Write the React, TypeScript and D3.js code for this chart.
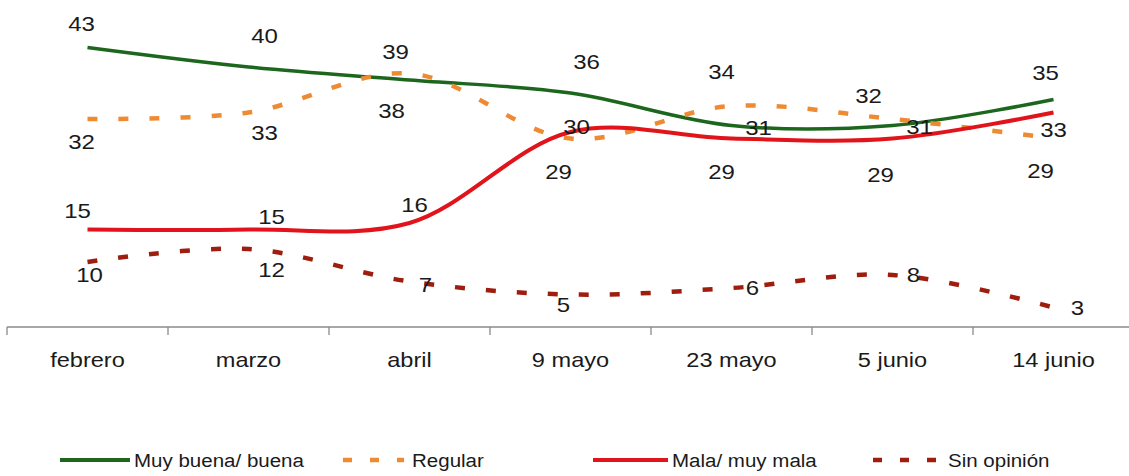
import React from 'react';
import * as d3 from 'd3';

const categories = ['febrero', 'marzo', 'abril', '9 mayo', '23 mayo', '5 junio', '14 junio'];

const muyBuena = [43, 40, 38, 36, 31, 31, 35];
const regular = [32, 33, 39, 29, 34, 32, 29];
const mala = [15, 15, 16, 30, 29, 29, 33];
const sinOpinion = [10, 12, 7, 5, 6, 8, 3];

// label offsets from each point (label centre - point), per series
const muyBuenaLabelPos = [[-6, -24], [16, -31], [-18, 31], [16, -31], [27, 2], [27, 1], [-8, -27]];
const regularLabelPos = [[-6, 23], [16, 20], [-14, -22], [-12, 33], [-10, -34], [-24, -23], [-13, 32]];
const malaLabelPos = [[-10, -19], [23, -13], [5, -18], [6, -5], [-10, 33], [-12, 36], [0, 17]];
const sinOpinionLabelPos = [[2, 13], [23, 21], [16, 3], [-7, 10], [21, 0], [21, 0], [24, 0]];

const width = 1129,
  height = 476;

const series = [
  { name: 'Muy buena/ buena', values: muyBuena, labels: muyBuenaLabelPos, color: '#1d661d', dash: null, sw: 3.5 },
  { name: 'Regular', values: regular, labels: regularLabelPos, color: '#ee8b32', dash: '10,21', sw: 4.5 },
  { name: 'Mala/ muy mala', values: mala, labels: malaLabelPos, color: '#e0141a', dash: null, sw: 4 },
  { name: 'Sin opinión', values: sinOpinion, labels: sinOpinionLabelPos, color: '#9e1d0e', dash: '10,21', sw: 4.5 },
];

const legendPos = [
  { x1: 60, x2: 130, tx: 134 },
  { x1: 343, x2: 404, tx: 412 },
  { x1: 593, x2: 668, tx: 672 },
  { x1: 873, x2: 940, tx: 948 },
];

const font = '"Liberation Sans", Arial, Helvetica, sans-serif';

const x = d3.scaleBand().domain(categories).range([7, 7 + 161 * 7]).padding(0);
const y = d3.scaleLinear().domain([0, 50]).range([327, 2]);
const cx = (c) => x(c) + x.bandwidth() / 2;

const line = d3.line()
  .x((d, i) => cx(categories[i]))
  .y(d => y(d))
  .curve(d3.curveCatmullRom);

const Label = ({ x, y, text, size, sx, anchor = 'middle', dy = '0.35em' }) => (
  <text
    transform={`translate(${x},${y}) scale(${sx},1)`}
    textAnchor={anchor}
    dy={dy}
    fontSize={size}
    fontFamily={font}
    fill="#1a1a1a"
  >
    {text}
  </text>
);

export default function App() {
  const tickXs = categories.map(c => x(c)).concat([x(categories[categories.length - 1]) + x.bandwidth()]);

  return (
    <svg width={width} height={height} style={{ position: 'absolute', left: 0, top: 0, background: '#fff' }}>
      {/* axis */}
      <g stroke="#8a8a8a" strokeWidth={1.3}>
        <line x1={7} x2={width} y1={y(0)} y2={y(0)} />
        {tickXs.map((t, i) => (
          <line key={i} x1={t} x2={t} y1={y(0)} y2={y(0) + 8} />
        ))}
      </g>
      {categories.map(c => (
        <Label key={c} x={cx(c)} y={367} text={c} size={20.5} sx={1.15} dy="0" />
      ))}

      {/* lines */}
      {series.map(s => (
        <path
          key={s.name}
          d={line(s.values)}
          fill="none"
          stroke={s.color}
          strokeWidth={s.sw}
          strokeDasharray={s.dash || undefined}
        />
      ))}

      {/* data labels */}
      {series.map(s => s.values.map((v, i) => (
        <Label
          key={s.name + i}
          x={cx(categories[i]) + s.labels[i][0]}
          y={y(v) + s.labels[i][1]}
          text={v}
          size={20}
          sx={1.2}
        />
      )))}

      {/* legend */}
      {series.map((s, i) => (
        <g key={s.name}>
          <line
            x1={legendPos[i].x1}
            x2={legendPos[i].x2}
            y1={460}
            y2={460}
            stroke={s.color}
            strokeWidth={s.dash ? 4.5 : 4}
            strokeDasharray={s.dash ? '9,18' : undefined}
          />
          <Label x={legendPos[i].tx} y={467} text={s.name} size={19} sx={1.08} anchor="start" dy="0" />
        </g>
      ))}
    </svg>
  );
}
